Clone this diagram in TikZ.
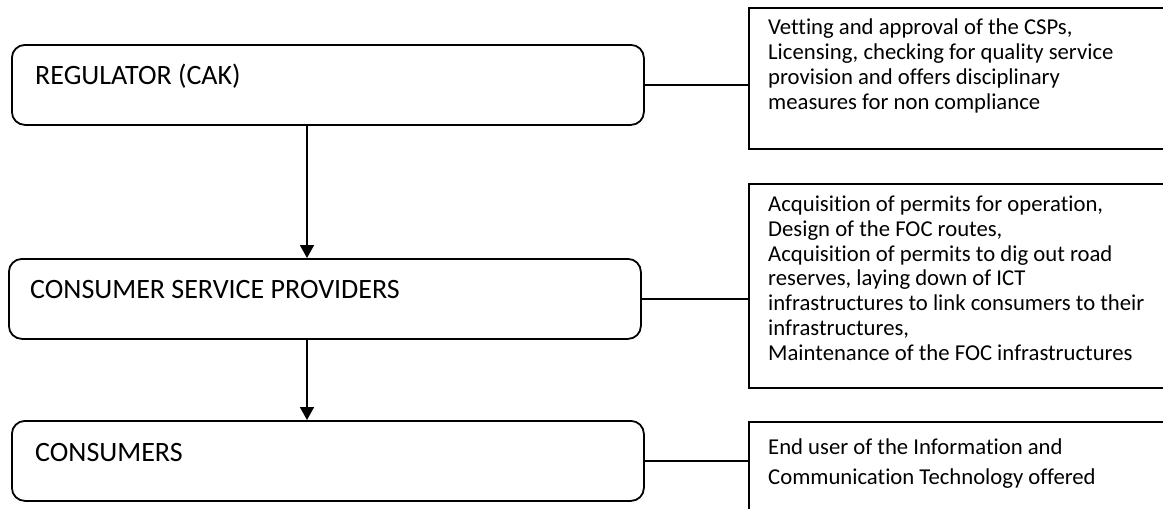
\documentclass[tikz,border=0pt]{standalone}
\usepackage{fontspec}
\setmainfont{Carlito}[Ligatures=NoCommon]
\usetikzlibrary{arrows.meta}
\begin{document}
\begin{tikzpicture}[x=1pt,y=-1pt,
  stage/.style={draw, line width=1.8pt, rounded corners=13pt, minimum width=632pt, minimum height=80pt, anchor=north west, inner sep=0pt},
  info/.style={draw, line width=1.8pt, minimum width=440pt, anchor=north west, inner sep=0pt},
  stagetext/.style={anchor=base west, inner sep=0pt, font=\fontsize{28}{32}\selectfont},
  infotext/.style={anchor=north west, inner sep=0pt, align=left, font=\fontsize{22.7}{24.7}\selectfont},
  link/.style={line width=1.3pt},
  flow/.style={line width=1.8pt, -{Triangle[width=14pt,length=13pt]}}
]
\useasboundingbox (0,0) rectangle (1163,509);
\clip (0,0) rectangle (1163,509);
% left stages
\node[stage] (reg) at (11,44) {};
\node[stage] (csp) at (8,258) {};
\node[stage] (con) at (11,420) {};
\node[stagetext] (regt) at (35,84) {REGULATOR (CAK)};
\node[stagetext] (cspt) at (30,298) {CONSUMER SERVICE PROVIDERS};
\node[stagetext] (cont) at (35,461) {CONSUMERS};
% right boxes
\node[info, minimum height=141pt] (r1) at (748,7) {};
\node[info, minimum height=204pt] (r2) at (748,183) {};
\node[info, minimum height=120pt] (r3) at (748,421) {};
\node[infotext] (r1t) at (768,19) {Vetting and approval of the CSPs,\\Licensing, checking for quality service\\provision and offers disciplinary\\measures for non compliance};
\node[infotext] (r2t) at (768,196) {Acquisition of permits for operation,\\Design of the FOC routes,\\Acquisition of permits to dig out road\\reserves, laying down of ICT\\infrastructures to link consumers to their\\infrastructures,\\Maintenance of the FOC infrastructures};
\node[infotext, font=\fontsize{22.7}{29.5}\selectfont] (r3t) at (768,439) {End user of the Information and\\Communication Technology offered};
% connectors
\draw[link] (reg.east) -- (reg.east -| r1.west);
\draw[link] (csp.east) -- (csp.east -| r2.west);
\draw[link] (con.east) -- (con.east -| r3.west);
\coordinate (ax) at (307,0);
\draw[flow] (ax |- reg.south) -- (ax |- csp.north);
\draw[flow] (ax |- csp.south) -- (ax |- con.north);
\end{tikzpicture}
\end{document}
